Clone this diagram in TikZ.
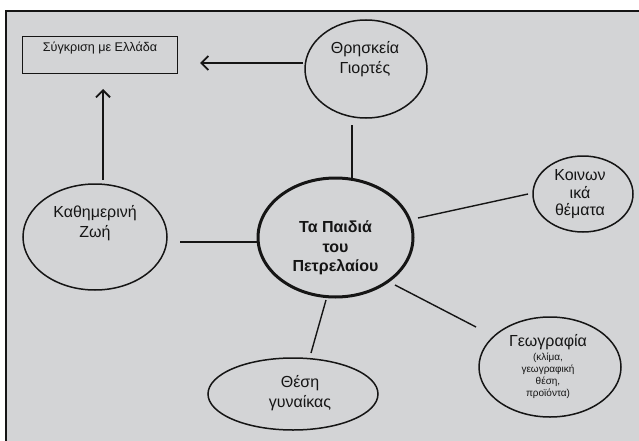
\documentclass[tikz,border=0pt]{standalone}
\usepackage{fontspec}
\setmainfont{Liberation Sans}
\usetikzlibrary{shapes.geometric,arrows.meta,calc}
\definecolor{bg}{HTML}{D3D4D6}
\definecolor{ink}{HTML}{151515}
\tikzset{
  ell/.style={draw=ink, ellipse, line width=1.5pt, inner sep=0pt},
  mainell/.style={draw=ink, ellipse, line width=3pt, inner sep=0pt},
  cbox/.style={draw=ink, rectangle, line width=1pt, inner sep=0pt},
  txt/.style={text=ink, align=center, inner sep=0pt, font=\fontsize{16}{20}\selectfont},
  conn/.style={draw=ink, line width=1.4pt},
  arr/.style={draw=ink, line width=1.7pt, -{Straight Barb[length=7pt,width=14pt,line width=1.8pt]}},
}
\begin{document}
\begin{tikzpicture}[x=1pt,y=-1pt]
\useasboundingbox (0,0) rectangle (639,441);
\fill[white] (0,0) rectangle (639,441);
\fill[bg] (6,11) rectangle (639,441);
\draw[ink, line width=2.5pt] (6,441) -- (6,11) -- (639,11);

% nodes
\node[cbox, minimum width=155pt, minimum height=37pt] (cmp) at (99.5,55.5) {};
\node[txt, font=\fontsize{12.6}{15}\selectfont] (cmpt) at (100,48) {Σύγκριση με Ελλάδα};

\node[ell, minimum width=122pt, minimum height=98pt] (rel) at (366,69) {};
\node[txt] (relt) at (365,59) {Θρησκεία\\Γιορτές};

\node[ell, minimum width=144pt, minimum height=106pt] (kath) at (95,237) {};
\node[txt] (katht) at (95,223) {Καθημερινή\\Ζωή};

\node[mainell, minimum width=155pt, minimum height=119pt] (center) at (335.5,237.5) {};
\node[txt, font=\fontsize{16}{19.5}\selectfont\bfseries] (centert) at (335.5,248) {Τα Παιδιά\\του\\Πετρελαίου};

\node[ell, minimum width=100pt, minimum height=76pt] (koin) at (583,194) {};
\node[txt, font=\fontsize{16}{17.5}\selectfont] (koint) at (580,194.5) {Κοινων\\ικά\\θέματα};

\node[ell, minimum width=170pt, minimum height=72pt] (thesi) at (293,394) {};
\node[txt] (thesit) at (300,393) {Θέση\\γυναίκας};

\node[ell, minimum width=142pt, minimum height=100pt] (geo) at (550,367) {};
\node[txt, font=\fontsize{10}{12}\selectfont] (geot) at (548,367) {{\fontsize{16}{18}\selectfont Γεωγραφία}\\[2pt](κλίμα,\\γεωγραφική\\θέση,\\προϊόντα)};

% connectors
\draw[arr] ($(rel)+(-63,-6)$) -- ($(cmp)+(100.5,7.5)$);
\draw[arr] ($(kath)+(8,-57)$) -- ($(cmp)+(3.5,33.5)$);
\draw[conn] ($(rel)+(-14,56)$) -- ($(center)+(16.5,-58)$);
\draw[conn] ($(center)+(82.5,-19.5)$) -- ($(koin)+(-55,0)$);
\draw[conn] ($(kath)+(85,5)$) -- ($(center)+(-77.5,4.5)$);
\draw[conn] ($(center)+(-9.5,62.5)$) -- ($(thesi)+(18,-41)$);
\draw[conn] ($(center)+(59.5,47.5)$) -- ($(geo)+(-74,-40)$);
\end{tikzpicture}
\end{document}
